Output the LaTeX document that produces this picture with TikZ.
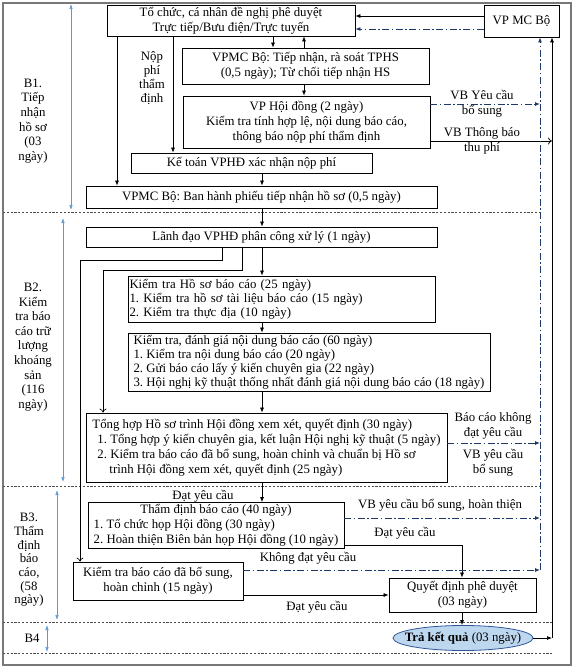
\documentclass[tikz,border=0pt]{standalone}
\usepackage{fontspec}
\setmainfont{Liberation Serif}
\usetikzlibrary{arrows.meta,shapes.geometric}
\frenchspacing
\definecolor{navy}{RGB}{31,56,100}
\definecolor{lblue}{RGB}{91,155,213}
\definecolor{efill}{RGB}{189,215,238}
\definecolor{estroke}{RGB}{47,85,151}
\definecolor{framec}{RGB}{120,120,120}
\newcommand\fs{\fontsize{12.8}{15}\selectfont}
\newcommand\fsl{\fontsize{12.8}{14}\selectfont}
\newcommand\fsb{\fontsize{12.8}{14.6}\selectfont}
\newcommand\fsc{\fontsize{12.8}{13.7}\selectfont}
\tikzset{
  box/.style={draw, line width=0.75pt, inner sep=1.5pt, font=\fs, align=center},
  lbox/.style={box, align=left, font=\fsl},
  arr/.style={-{Latex[length=5pt,width=4pt]}, line width=0.7pt},
  oarr/.style={-{To[length=4pt,width=7pt]}, line width=0.7pt},
  ddash/.style={draw=navy, line width=0.9pt, dash pattern=on 7pt off 2.5pt on 1.5pt off 2.5pt},
  ddarr/.style={ddash, -{Latex[length=5pt,width=4pt]}},
  sepline/.style={draw=black!70, line width=0.6pt, dash pattern=on 2.2pt off 1.6pt},
  barr/.style={{Latex[length=5pt,width=3.5pt]}-{Latex[length=5pt,width=3.5pt]}, draw=lblue, line width=0.6pt},
  lbl/.style={font=\fs, align=center, inner sep=0pt},
}
\begin{document}
\begin{tikzpicture}[x=1pt,y=-1pt]
\useasboundingbox (0,0) rectangle (576,669);
\draw[draw=framec, line width=1.2pt] (3,3) rectangle (571,665);

% section separators
\draw[sepline] (3,212) -- (541,212);
\draw[sepline] (3,486) -- (541,486);
\draw[sepline] (3,622) -- (552,622);
\draw[sepline] (3,653) -- (552,653);

% section span arrows
\draw[barr] (71,4) -- (71,210);
\draw[barr] (63,218) -- (63,482);
\draw[barr] (57,490) -- (57,620);
\draw[barr] (47,625) -- (47,652);

% section labels
\node[font=\fsb, align=center, inner sep=0pt] (lb1) at (33,121) {B1.\\Tiếp\\nhận\\hồ sơ\\(03\\ngày)};
\node[font=\fsb, align=center, inner sep=0pt] (lb2) at (33,347) {B2.\\Kiểm\\tra báo\\cáo trữ\\lượng\\khoáng\\sản\\(116\\ngày)};
\node[font=\fsc, align=center, inner sep=0pt] (lb3) at (29,560) {B3.\\Thẩm\\định\\báo\\cáo,\\(58\\ngày)};
\node[font=\fs, inner sep=0pt] (lb4) at (32,638) {B4};

% boxes
\node[box, minimum width=248pt, minimum height=31pt] (tochuc) at (231,20.5) {Tổ chức, cá nhân đề nghị phê duyệt\\Trực tiếp/Bưu điện/Trực tuyến};
\node[box, minimum width=75pt, minimum height=32pt] (vpmc) at (521.5,21) {VP MC Bộ};
\node[box, minimum width=247pt, minimum height=36pt] (tiepnhan) at (305.5,66) {VPMC Bộ: Tiếp nhận, rà soát TPHS\\(0,5 ngày); Từ chối tiếp nhận HS};
\node[box, minimum width=247pt, minimum height=52pt] (hoidong) at (306.5,122) {VP Hội đồng (2 ngày)\\Kiểm tra tính hợp lệ, nội dung báo cáo,\\thông báo nộp phí thẩm định};
\node[box, minimum width=241pt, minimum height=20pt] (ketoan) at (251.5,163) {Kế toán VPHĐ xác nhận nộp phí};
\node[box, minimum width=351pt, minimum height=22pt] (banhanh) at (261.5,197) {VPMC Bộ: Ban hành phiếu tiếp nhận hồ sơ (0,5 ngày)};
\node[box, minimum width=351pt, minimum height=20pt] (lanhdao) at (261.5,237) {Lãnh đạo VPHĐ phân công xử lý (1 ngày)};
\node[lbox, text width=304pt, minimum height=46pt] (kths) at (281.5,299) {Kiểm tra Hồ sơ báo cáo (25 ngày)\\1. Kiểm tra hồ sơ tài liệu báo cáo (15 ngày)\\2. Kiểm tra thực địa (10 ngày)};
\node[lbox, minimum width=362pt, minimum height=58pt] (ktdg) at (309,362) {Kiểm tra, đánh giá nội dung báo cáo (60 ngày)\\1. Kiểm tra nội dung báo cáo (20 ngày)\\2. Gửi báo cáo lấy ý kiến chuyên gia (22 ngày)\\3. Hội nghị kỹ thuật thống nhất đánh giá nội dung báo cáo (18 ngày)};
\node[lbox, font=\fs, minimum width=361pt, minimum height=69pt] (tonghop) at (266.5,447.5) {Tổng hợp Hồ sơ trình Hội đồng xem xét, quyết định (30 ngày)\\\hspace*{5pt}1. Tổng hợp ý kiến chuyên gia, kết luận Hội nghị kỹ thuật (5 ngày)\\\hspace*{5pt}2. Kiểm tra báo cáo đã bổ sung, hoàn chỉnh và chuẩn bị Hồ sơ\\\hspace*{17pt}trình Hội đồng xem xét, quyết định (25 ngày)};
\node[box, inner sep=0.5pt, minimum width=256pt, minimum height=45pt] (thamdinh) at (216,525.5) {\begin{tabular}{@{}l@{}}\multicolumn{1}{@{}c@{}}{Thẩm định báo cáo (40 ngày)}\\1. Tổ chức họp Hội đồng (30 ngày)\\2. Hoàn thiện Biên bản họp Hội đồng (10 ngày)\end{tabular}};
\node[box, minimum width=170pt, minimum height=38pt] (ktbs) at (158,581) {Kiểm tra báo cáo đã bổ sung,\\hoàn chỉnh (15 ngày)};
\node[box, minimum width=147pt, minimum height=34pt] (quyetdinh) at (462.5,595) {Quyết định phê duyệt\\(03 ngày)};
\node[ellipse, draw=estroke, fill=efill, line width=0.8pt, minimum width=140pt, minimum height=25pt, inner sep=0pt] (trakq) at (463,638) {};
\node[font=\fs, inner sep=0pt] (trakqtext) at (trakq.center) {\textbf{Trả kết quả} (03 ngày)};

% helper x positions
\coordinate (xA) at (273,0);
\coordinate (xB) at (304,0);
\coordinate (xC) at (117,0);
\coordinate (xD) at (173,0);
\coordinate (xE) at (262,0);
\coordinate (xF) at (222,0);
\coordinate (xG) at (242,0);
\coordinate (xH) at (80,0);
\coordinate (xI) at (103,0);
\coordinate (xQ) at (462,0);
\coordinate (xdd) at (540,0);
\coordinate (xsl) at (552,0);
% helper y positions
\coordinate (y1) at (0,16);
\coordinate (y2) at (0,29);
\coordinate (y3) at (0,104);
\coordinate (y4) at (0,141);
\coordinate (y5) at (0,443);
\coordinate (y6) at (0,518);
\coordinate (y7) at (0,545);
\coordinate (y8) at (0,570);
\coordinate (y9) at (0,595);
\coordinate (ddbot) at (540,570);

% B1 connectors
\draw[arr] (vpmc.west |- y1) -- (tochuc.east |- y1);
\draw[ddarr] (vpmc.west |- y2) -- (tochuc.east |- y2);
\draw[arr] (tochuc.south -| xA) -- (tiepnhan.north -| xA);
\draw[arr] (tiepnhan.north -| xB) -- (tochuc.south -| xB);
\draw[arr] (tiepnhan.south -| xB) -- (hoidong.north -| xB);
\draw[arr] (tochuc.south -| xC) -- (banhanh.north -| xC);
\draw[arr] (tochuc.south -| xD) -- (ketoan.north -| xD);
\node[font=\fontsize{12.8}{14}\selectfont, align=center, inner sep=0pt] (nopphi) at (152,78) {Nộp\\phí\\thẩm\\định};
\draw[arr] (ketoan.south -| xE) -- (banhanh.north -| xE);
\draw[arr] (banhanh.south -| xE) -- (lanhdao.north -| xE);
\draw[ddarr] (hoidong.east |- y3) -- (xdd |- y3);
\node[lbl] (l1) at (482,104) {VB Yêu cầu\\bổ sung};
\draw[-{To[length=4pt,width=7pt]}, line width=0.7pt] (hoidong.east |- y4) -- (xsl |- y4);
\node[lbl] (l2) at (482,141) {VB Thông báo\\thu phí};

% right vertical return lines
\draw[ddarr] (ddbot) -- (vpmc.south -| xdd);
\draw[arr] (trakq.east) -- (trakq.east -| xsl);
\draw[arr] (trakq.east -| xsl) -- (vpmc.south -| xsl);

% B2 connectors
\draw[arr] (lanhdao.south -| xE) -- (kths.north -| xE);
\draw[oarr] (lanhdao.south -| xF) -- ++(0,13) -| (ktbs.north -| xH);
\draw[oarr] (lanhdao.south -| xG) -- ++(0,23) -| (tonghop.north -| xI);
\draw[arr] (kths.south -| xE) -- (ktdg.north -| xE);
\draw[arr] (ktdg.south -| xE) -- (tonghop.north -| xE);
\draw[ddarr] (tonghop.east |- y5) -- (xdd |- y5);
\node[lbl] (l3) at (493,425.5) {Báo cáo không\\đạt yêu cầu};
\node[lbl] (l4) at (493,462.5) {VB yêu cầu\\bổ sung};

% B3 connectors
\draw[arr] (tonghop.south -| xE) -- (thamdinh.north -| xE);
\node[lbl] (l5) at (203,496) {Đạt yêu cầu};
\draw[ddarr] (thamdinh.east |- y6) -- (xdd |- y6);
\node[lbl] (l6) at (440,505) {VB yêu cầu bổ sung, hoàn thiện};
\draw[arr] (thamdinh.east |- y7) -| (quyetdinh.north -| xQ);
\node[lbl] (l7) at (405,533) {Đạt yêu cầu};
\draw[ddarr] (ktbs.east |- y8) -- (xdd |- y8);
\node[lbl] (l8) at (308,558) {Không đạt yêu cầu};
\draw[arr] (ktbs.east |- y9) -- (quyetdinh.west |- y9);
\node[lbl] (l9) at (317,607) {Đạt yêu cầu};

% B4
\draw[arr] (quyetdinh.south -| xQ) -- (trakq.north -| xQ);
\end{tikzpicture}
\end{document}
